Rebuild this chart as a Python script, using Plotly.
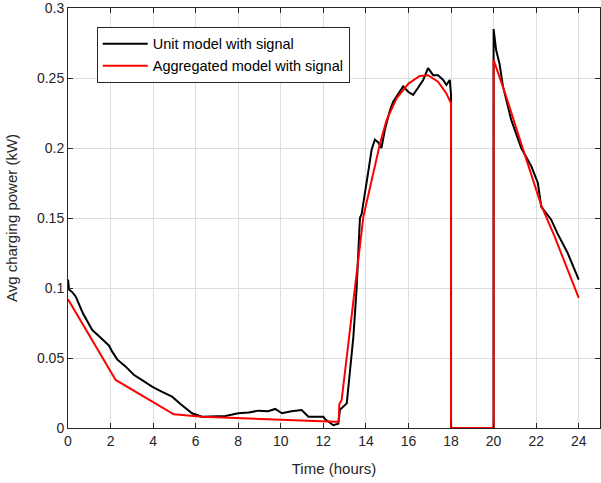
import plotly.graph_objects as go

# Unit model with signal (black)
unit_t = [0.0, 0.05, 0.2, 0.36, 0.7, 1.14, 1.5, 1.92, 2.1, 2.31, 2.7, 3.09, 3.5,
          3.95, 4.4, 4.89, 5.3, 5.83, 6.3, 6.8, 7.4, 8.0, 8.5, 8.95, 9.4, 9.74,
          10.05, 10.5, 10.98, 11.3, 11.7, 12.0, 12.1, 12.47, 12.7, 12.78, 13.1,
          13.25, 13.41, 13.56, 13.72, 13.8, 13.96, 14.1, 14.27, 14.42, 14.58,
          14.73, 14.89, 15.13, 15.28, 15.52, 15.75, 16.0, 16.22, 16.45, 16.69,
          16.92, 17.16, 17.39, 17.63, 17.78, 17.94, 18.0, 18.0, 20.0, 20.0, 20.12,
          20.28, 20.44, 20.83, 21.3, 21.77, 22.08, 22.24, 22.7, 23.0, 23.48, 24.0]
unit_p = [0.106, 0.099, 0.097, 0.094, 0.082, 0.070, 0.065, 0.059, 0.054, 0.049,
          0.044, 0.038, 0.034, 0.0295, 0.026, 0.0224, 0.017, 0.0105, 0.008, 0.0085,
          0.0086, 0.0105, 0.011, 0.0124, 0.012, 0.0136, 0.0105, 0.012, 0.0129,
          0.008, 0.008, 0.008, 0.006, 0.002, 0.003, 0.013, 0.0176, 0.041, 0.065,
          0.099, 0.150, 0.153, 0.170, 0.182, 0.199, 0.206, 0.204, 0.200, 0.213,
          0.227, 0.233, 0.239, 0.244, 0.240, 0.238, 0.243, 0.2486, 0.257, 0.252,
          0.252, 0.2486, 0.245, 0.2486, 0.238, 0.0, 0.0, 0.285, 0.270, 0.260,
          0.244, 0.220, 0.200, 0.187, 0.175, 0.158, 0.149, 0.139, 0.125, 0.106]

# Aggregated model with signal (red)
agg_t = [0.0, 2.24, 4.97, 6.3, 12.55, 12.72, 12.75, 12.86, 13.88, 14.35, 14.66,
         14.97, 15.44, 16.0, 16.53, 16.92, 17.39, 17.78, 18.0, 18.0, 20.0, 20.0,
         20.52, 21.3, 22.24, 22.86, 24.0]
agg_p = [0.092, 0.0343, 0.0098, 0.008, 0.0045, 0.0045, 0.017, 0.020, 0.151,
         0.182, 0.203, 0.220, 0.2355, 0.246, 0.2514, 0.252, 0.2474, 0.239, 0.232,
         0.0, 0.0, 0.263, 0.240, 0.203, 0.159, 0.137, 0.093]

x_ticks = [0, 2, 4, 6, 8, 10, 12, 14, 16, 18, 20, 22, 24]
y_ticks = [0, 0.05, 0.1, 0.15, 0.2, 0.25, 0.3]
y_tick_text = ["0", "0.05", "0.1", "0.15", "0.2", "0.25", "0.3"]

FONT = "Liberation Sans, Arial, sans-serif"
AX = "#262626"
GRID = "#dedede"

fig = go.Figure()
fig.add_trace(go.Scatter(x=unit_t, y=unit_p, mode="lines",
                         name="Unit model with signal",
                         line=dict(color="#000000", width=2)))
fig.add_trace(go.Scatter(x=agg_t, y=agg_p, mode="lines",
                         name="Aggregated model with signal",
                         line=dict(color="#ff0000", width=2)))

axis_common = dict(showline=True, linecolor=AX, linewidth=1, mirror="ticks",
                   ticks="inside", ticklen=5, tickcolor=AX, automargin=False,
                   showgrid=True, gridcolor=GRID, gridwidth=1, zeroline=False,
                   ticklabeloverflow="allow",
                   tickfont=dict(family=FONT, size=14, color=AX))

fig.update_xaxes(range=[0, 25], tickvals=x_ticks,
                 title=dict(text="Time (hours)", font=dict(family=FONT, size=15, color=AX)),
                 **axis_common)
fig.update_yaxes(range=[0, 0.3], tickvals=y_ticks, ticktext=y_tick_text,
                 title=dict(text="Avg charging power (kW)", font=dict(family=FONT, size=15, color=AX)),
                 **axis_common)

fig.update_layout(
    width=601, height=483,
    margin=dict(l=68, r=1, t=8, b=55),
    paper_bgcolor="white", plot_bgcolor="white",
    showlegend=True,
    legend=dict(x=0.054, y=0.955, xanchor="left", yanchor="top",
                bgcolor="white", bordercolor=AX, borderwidth=1,
                font=dict(family=FONT, size=14.5, color="#000000"),
                tracegroupgap=0, itemwidth=45),
    font=dict(family=FONT, color=AX),
)

fig.write_html("out.html", config={"displayModeBar": False},
               post_script="document.body.style.margin='0';")
